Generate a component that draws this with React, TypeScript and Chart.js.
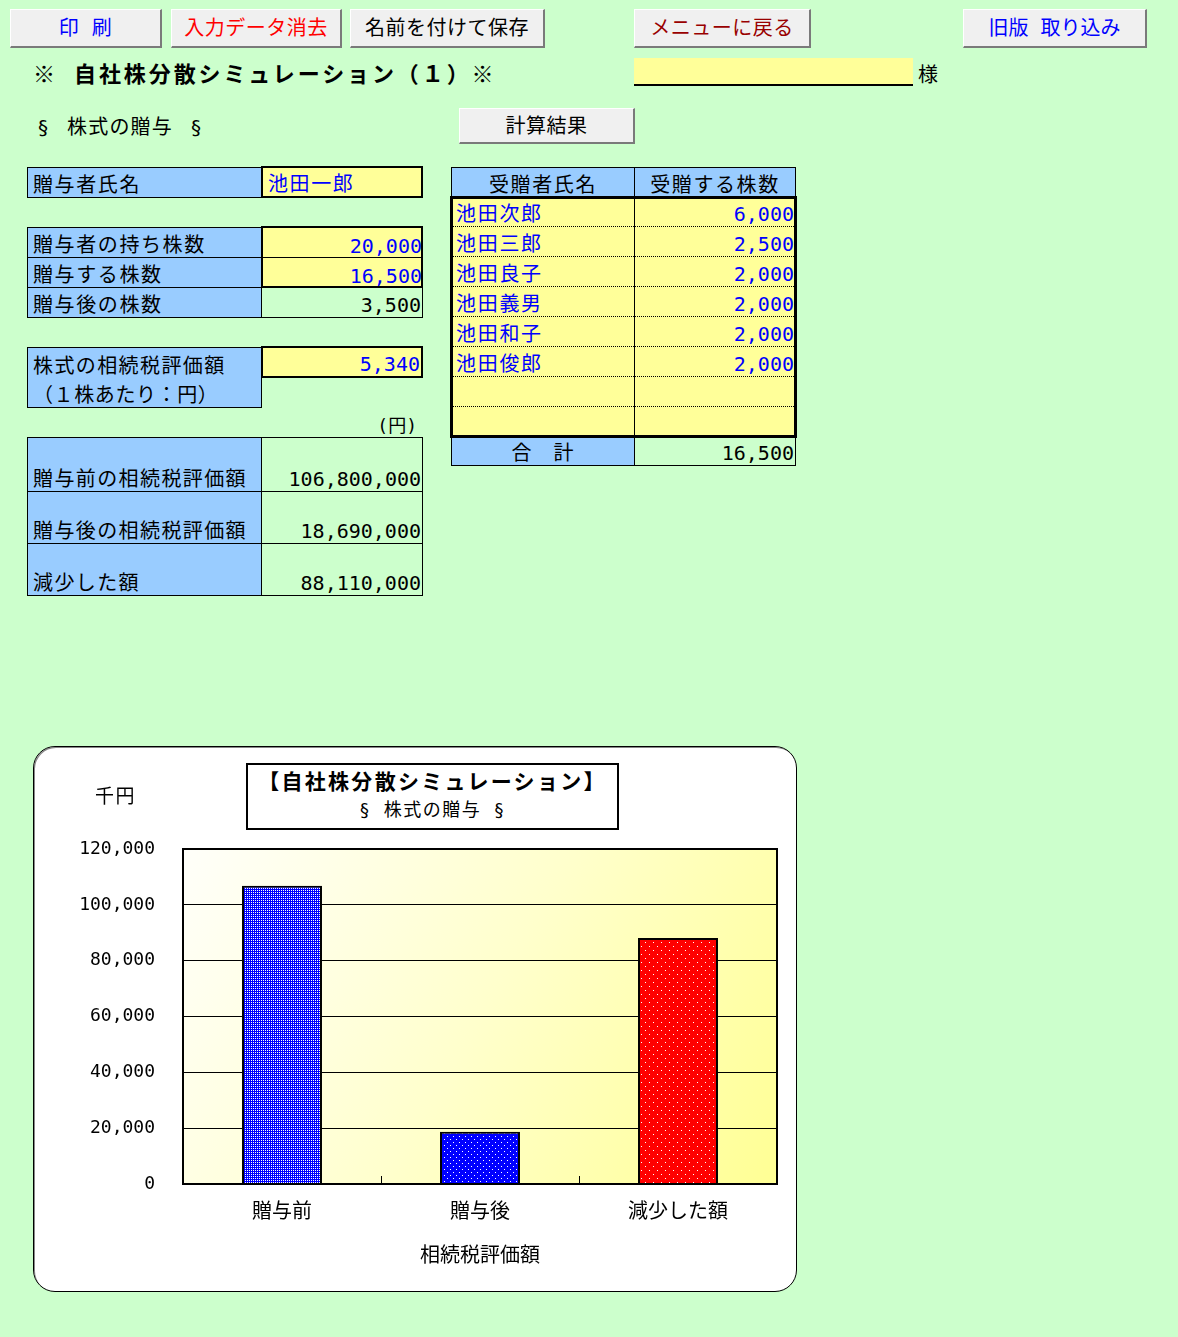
import React, { useEffect, useRef } from 'react';
import { Chart, registerables } from 'chart.js';

Chart.register(...registerables);

const FONT = '"DejaVu Sans Mono", "Noto Sans CJK JP", sans-serif';

// ---- chart data ----
const categories = ['贈与前', '贈与後', '減少した額'];
const valuesThousandYen = [106800, 18690, 88110];
const yMin = 0;
const yMax = 120000;
const yStep = 20000;
const xAxisTitle = '相続税評価額';
const yUnit = '千円';
const chartTitle = '【自社株分散シミュレーション】';
const chartSubtitle = '§ 株式の贈与 §';

// ---- sheet data ----
const donorName = '池田一郎';
const shareLabels = ['贈与者の持ち株数', '贈与する株数', '贈与後の株数'];
const shareValues = ['20,000', '16,500', '3,500'];
const unitPriceLabel = ['株式の相続税評価額', '（１株あたり：円）'];
const unitPrice = '5,340';
const valuationLabels = ['贈与前の相続税評価額', '贈与後の相続税評価額', '減少した額'];
const valuationValues = ['106,800,000', '18,690,000', '88,110,000'];
const recipientNames = ['池田次郎', '池田三郎', '池田良子', '池田義男', '池田和子', '池田俊郎', '', ''];
const recipientShares = ['6,000', '2,500', '2,000', '2,000', '2,000', '2,000', '', ''];
const totalShares = '16,500';

const BLUE_CELL = '#99CCFF';
const YELLOW = '#FFFF99';
const BG = '#CCFFCC';

type BtnProps = { x: number; y: number; w: number; h: number; text: string; color: string; spacing?: number };
function Btn({ x, y, w, h, text, color, spacing = 0.5 }: BtnProps) {
  return (
    <div
      style={{
        position: 'absolute', left: x, top: y, width: w, height: h, boxSizing: 'border-box',
        background: '#F0F0F0', borderTop: '1px solid #FFFFFF', borderLeft: '1px solid #FFFFFF',
        borderRight: '2px solid #7A7A7A', borderBottom: '2px solid #7A7A7A',
        display: 'flex', alignItems: 'center', justifyContent: 'center', paddingBottom: 3,
        fontFamily: FONT, fontSize: 20, color, letterSpacing: spacing, whiteSpace: 'pre',
      }}
    >
      {text}
    </div>
  );
}

type CellProps = {
  x: number; y: number; w: number; h: number; bg?: string; text?: string; color?: string;
  align?: 'left' | 'right' | 'center'; border?: number; spacing?: number;
};
function Cell({ x, y, w, h, bg = 'transparent', text = '', color = '#000', align = 'left', border = 1, spacing = 1.6 }: CellProps) {
  return (
    <div
      style={{
        position: 'absolute', left: x, top: y, width: w, height: h, boxSizing: 'border-box',
        background: bg, border: `${border}px solid #000`, display: 'flex',
        alignItems: 'flex-end',
        justifyContent: align === 'left' ? 'flex-start' : align === 'right' ? 'flex-end' : 'center',
        padding: align === 'left' ? '0 0 0 5px' : align === 'right' ? '0 1px 0 0' : 0,
        fontFamily: FONT, fontSize: 20, lineHeight: '24px', color, letterSpacing: spacing, whiteSpace: 'pre',
      }}
    >
      {text}
    </div>
  );
}

function makePattern(ctx: CanvasRenderingContext2D, color: string, size: number, dots: number[][]) {
  const c = document.createElement('canvas');
  c.width = size;
  c.height = size;
  const g = c.getContext('2d')!;
  g.fillStyle = color;
  g.fillRect(0, 0, size, size);
  g.fillStyle = '#FFFFFF';
  dots.forEach(([dx, dy]) => g.fillRect(dx, dy, 1, 1));
  return ctx.createPattern(c, 'repeat') as CanvasPattern;
}

const plotFrame = {
  id: 'plotFrame',
  beforeDraw(chart: any) {
    const { ctx, chartArea: a } = chart;
    const grad = ctx.createLinearGradient(a.left, a.top, a.right, a.bottom);
    grad.addColorStop(0, '#FFFFFA');
    grad.addColorStop(0.5, '#FFFFCC');
    grad.addColorStop(1, '#FFFF94');
    ctx.save();
    ctx.fillStyle = grad;
    ctx.fillRect(a.left, a.top, a.right - a.left, a.bottom - a.top);
    ctx.restore();
  },
  afterDraw(chart: any) {
    const { ctx, chartArea: a } = chart;
    const xs = chart.scales.x;
    ctx.save();
    ctx.strokeStyle = '#000';
    ctx.lineWidth = 1;
    for (let i = 0; i < categories.length - 1; i++) {
      const px = Math.round((xs.getPixelForValue(i) + xs.getPixelForValue(i + 1)) / 2) + 0.5;
      ctx.beginPath();
      ctx.moveTo(px, a.bottom);
      ctx.lineTo(px, a.bottom - 8);
      ctx.stroke();
    }
    ctx.lineWidth = 2;
    ctx.strokeRect(a.left, a.top, a.right - a.left, a.bottom - a.top);
    ctx.restore();
  },
};

function BarChart() {
  const ref = useRef<HTMLCanvasElement>(null);
  useEffect(() => {
    const canvas = ref.current!;
    const ctx = canvas.getContext('2d')!;
    const patterns = [
      makePattern(ctx, '#0000FF', 2, [[0, 0]]),
      makePattern(ctx, '#0000FF', 6, [[0, 0], [3, 3]]),
      makePattern(ctx, '#FF0000', 8, [[0, 0], [4, 4]]),
    ];
    const chart = new Chart(canvas, {
      type: 'bar',
      data: {
        labels: categories,
        datasets: [
          {
            data: valuesThousandYen,
            backgroundColor: patterns,
            borderColor: '#000000',
            borderWidth: 2,
            barPercentage: 0.404,
            categoryPercentage: 1,
          },
        ],
      },
      options: {
        responsive: false,
        animation: false,
        layout: { padding: { left: 0, right: 19, top: 103, bottom: 0 } },
        plugins: { legend: { display: false }, tooltip: { enabled: false }, title: { display: false } },
        scales: {
          x: {
            grid: { display: false, drawTicks: false },
            border: { display: false },
            ticks: { color: '#000', font: { family: FONT, size: 20 }, padding: 17 },
            title: {
              display: true, text: xAxisTitle, color: '#000',
              font: { family: FONT, size: 20 }, padding: { top: 0, bottom: 22 },
            },
            afterFit: (s: any) => { s.height = 107; },
          },
          y: {
            min: yMin,
            max: yMax,
            ticks: {
              stepSize: yStep,
              color: '#000',
              font: { family: FONT, size: 18 },
              padding: 28,
              callback: (v: any) => Number(v).toLocaleString('en-US'),
            },
            grid: { color: '#000000', lineWidth: 1, drawTicks: false },
            border: { display: false },
            afterFit: (s: any) => { s.width = 150; },
          },
        },
      },
      plugins: [plotFrame],
    });
    return () => chart.destroy();
  }, []);
  return <canvas ref={ref} width={763} height={545} style={{ display: 'block', width: 763, height: 545 }} />;
}

export default function App() {
  const rowY = [197, 227, 257, 287, 317, 347, 377, 407];
  return (
    <div style={{ position: 'absolute', left: 0, top: 0, width: 1178, height: 1337, background: BG, overflow: 'hidden', fontFamily: FONT, color: '#000' }}>
      {/* buttons */}
      <Btn x={10} y={9} w={152} h={39} text="印 刷" color="#0000FF" />
      <Btn x={171} y={9} w={171} h={39} text="入力データ消去" color="#FF0000" />
      <Btn x={350} y={9} w={195} h={39} text="名前を付けて保存" color="#000000" />
      <Btn x={634} y={9} w={177} h={39} text="メニューに戻る" color="#990000" />
      <Btn x={963} y={9} w={184} h={39} text={'旧版\u2006取り込み'} color="#0000FF" spacing={0} />
      <Btn x={459} y={108} w={176} h={36} text="計算結果" color="#000000" />

      {/* title */}
      <div style={{ position: 'absolute', left: 33, top: 61, fontSize: 22, fontWeight: 'bold', letterSpacing: 2.9, lineHeight: '28px', whiteSpace: 'pre', fontFamily: FONT }}>
        ※ 自社株分散シミュレーション（１）※
      </div>
      <div style={{ position: 'absolute', left: 634, top: 58, width: 279, height: 28, boxSizing: 'border-box', background: YELLOW, borderBottom: '2px solid #000' }} />
      <div style={{ position: 'absolute', left: 918, top: 61, fontSize: 20, lineHeight: '28px' }}>様</div>

      <div style={{ position: 'absolute', left: 37, top: 113, fontSize: 20, lineHeight: '28px' }}>§</div>
      <div style={{ position: 'absolute', left: 67, top: 113, fontSize: 20, lineHeight: '28px', letterSpacing: 1.2 }}>株式の贈与</div>
      <div style={{ position: 'absolute', left: 190, top: 113, fontSize: 20, lineHeight: '28px' }}>§</div>

      {/* left table */}
      <Cell x={27} y={167} w={235} h={31} bg={BLUE_CELL} text="贈与者氏名" />
      <Cell x={261} y={166} w={162} h={32} bg={YELLOW} border={2} text={donorName} color="#0000FF" />

      {shareLabels.map((t, i) => (
        <Cell key={t} x={27} y={227 + i * 30} w={235} h={31} bg={BLUE_CELL} text={t} />
      ))}
      <Cell x={261} y={226} w={162} h={32} bg={YELLOW} border={0} text={shareValues[0]} color="#0000FF" align="right" spacing={0} />
      <Cell x={261} y={257} w={162} h={31} bg={YELLOW} border={0} text={shareValues[1]} color="#0000FF" align="right" spacing={0} />
      <div style={{ position: 'absolute', left: 261, top: 226, width: 162, height: 62, boxSizing: 'border-box', border: '2px solid #000' }} />
      <div style={{ position: 'absolute', left: 261, top: 257, width: 162, height: 1, background: '#000' }} />
      <Cell x={261} y={287} w={162} h={31} text={shareValues[2]} align="right" spacing={0} />

      <div style={{ position: 'absolute', left: 27, top: 347, width: 235, height: 61, boxSizing: 'border-box', background: BLUE_CELL, border: '1px solid #000', fontSize: 20, letterSpacing: 1.4, paddingLeft: 5, whiteSpace: 'pre' }}>
        <div style={{ height: 29, lineHeight: '37px' }}>{unitPriceLabel[0]}</div>
        <div style={{ height: 30, lineHeight: '36px', letterSpacing: 0.6 }}>{unitPriceLabel[1]}</div>
      </div>
      <Cell x={261} y={346} w={162} h={32} bg={YELLOW} border={2} text={unitPrice} color="#0000FF" align="right" spacing={0} />

      <div style={{ position: 'absolute', left: 300, top: 413, width: 117, textAlign: 'right', fontSize: 18, lineHeight: '26px' }}>(円)</div>

      {valuationLabels.map((t, i) => {
        const ys = [437, 491, 543];
        const hs = [55, 53, 53];
        return (
          <React.Fragment key={t}>
            <Cell x={27} y={ys[i]} w={235} h={hs[i]} bg={BLUE_CELL} text={t} spacing={1.4} />
            <Cell x={261} y={ys[i]} w={162} h={hs[i]} text={valuationValues[i]} align="right" spacing={0} />
          </React.Fragment>
        );
      })}

      {/* right table */}
      <Cell x={451} y={167} w={184} h={31} bg={BLUE_CELL} text="受贈者氏名" align="center" />
      <Cell x={634} y={167} w={162} h={31} bg={BLUE_CELL} text="受贈する株数" align="center" />
      <div style={{ position: 'absolute', left: 451, top: 196, width: 345, height: 242, background: YELLOW }} />
      {recipientNames.map((n, i) => (
        <React.Fragment key={i}>
          <div style={{ position: 'absolute', left: 453, top: rowY[i], width: 181, height: 30, boxSizing: 'border-box', borderBottom: i < recipientNames.length - 1 ? '1px dotted #000' : 'none', display: 'flex', alignItems: 'flex-end', paddingLeft: 3, color: '#0000FF', fontSize: 20, lineHeight: '24px', letterSpacing: 1.7 }}>{n}</div>
          <div style={{ position: 'absolute', left: 635, top: rowY[i], width: 159, height: 30, boxSizing: 'border-box', borderBottom: i < recipientNames.length - 1 ? '1px dotted #000' : 'none', display: 'flex', alignItems: 'flex-end', justifyContent: 'flex-end', color: '#0000FF', fontSize: 20, lineHeight: '24px' }}>{recipientShares[i]}</div>
        </React.Fragment>
      ))}
      <div style={{ position: 'absolute', left: 634, top: 196, width: 1, height: 242, background: '#000' }} />
      <div style={{ position: 'absolute', left: 450, top: 196, width: 347, height: 242, boxSizing: 'border-box', border: '3px solid #000' }} />
      <Cell x={451} y={437} w={184} h={29} bg={BLUE_CELL} text="合　計" align="center" spacing={1} />
      <Cell x={634} y={437} w={162} h={29} text={totalShares} align="right" spacing={0} />

      {/* chart */}
      <div style={{ position: 'absolute', left: 33, top: 746, width: 764, height: 546, boxSizing: 'border-box', background: '#FFFFFF', border: '1px solid #000', borderRadius: 22, overflow: 'hidden', boxShadow: 'inset 1px 1px 0 #888' }}>
        <div style={{ position: 'absolute', left: -1, top: -1 }}>
          <BarChart />
        </div>
        <div style={{ position: 'absolute', left: 212, top: 16, width: 373, height: 67, boxSizing: 'border-box', border: '2px solid #000', background: '#FFFFFF', textAlign: 'center' }}>
          <div style={{ fontSize: 21, fontWeight: 'bold', letterSpacing: 2.3, lineHeight: '32px', marginTop: 1 }}>{chartTitle}</div>
          <div style={{ fontSize: 18, lineHeight: '24px', letterSpacing: 1.5, whiteSpace: 'pre' }}>{chartSubtitle}</div>
        </div>
        <div style={{ position: 'absolute', left: 61, top: 36, fontSize: 19, lineHeight: '26px', letterSpacing: 1.5 }}>{yUnit}</div>
      </div>
    </div>
  );
}
